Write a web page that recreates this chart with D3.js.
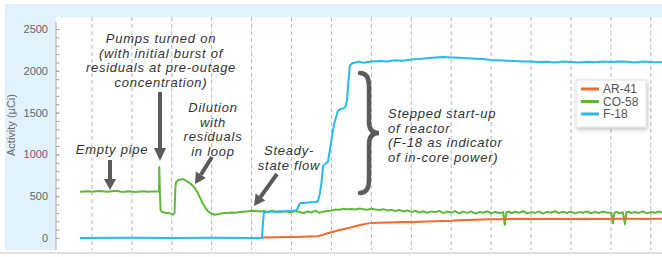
<!DOCTYPE html>
<html>
<head>
<meta charset="utf-8">
<script src="https://cdn.jsdelivr.net/npm/d3@7"></script>
<style>
  body { margin: 0; background: #fff; }
  svg { display: block; font-family: "Liberation Sans", Arial, sans-serif; }
  .note { font-style: italic; fill: #333; font-size: 13px; letter-spacing: 0.75px; }
  .tick-label { fill: #666; font-size: 11px; }
</style>
</head>
<body>
<svg id="chart"></svg>
<script>
// values; time is in arbitrary units, one grid line every 10
const yTicks = [0, 500, 1000, 1500, 2000, 2500];
const yMinorTicks = d3.range(0, 2501, 100);
const gridTimes = [10, 20, 30, 40, 50, 60, 70, 80, 90, 100, 110, 120, 130, 140, 150];

const seriesNames = ['AR-41', 'CO-58', 'F-18'];
const seriesColors = ['#f26a2e', '#5fb83a', '#2ab9ee'];

// AR-41 [time, activity]
const ar41 = [
  [52.6, 5], [56, 8], [60, 12], [63, 15], [66.5, 22], [68, 40], [69, 56], [70.5, 75], [72, 95], [73.5, 110],
  [74.6, 122], [76, 140], [77.5, 158], [78.9, 172], [80, 178], [82, 183], [84, 186], [86, 188], [88, 190],
  [90, 192], [92, 195], [94, 197], [96, 200], [98, 203], [100, 206], [102, 212], [104, 216], [106, 219],
  [108, 222], [110, 224], [112, 225], [115, 226], [118, 227], [121, 226], [124, 228], [127, 227],
  [130, 226], [133, 229], [136, 228], [139, 227], [142, 229], [145, 230], [148, 228], [151, 230], [152.8, 230]
];

// CO-58 [time, activity]
const co58 = [
  [7, 552], [8, 556], [9, 560], [10, 554], [11, 558], [12, 562], [13, 557], [14, 553], [15, 559], [16, 566],
  [17, 556], [18, 551], [19, 558], [20, 555], [21, 549], [22, 556], [23, 560], [24, 553], [25, 557], [26, 555],
  [26.8, 556], [26.88, 850], [27.05, 500], [27.2, 330], [27.6, 310], [28.2, 305], [28.8, 300], [29.4, 298],
  [30, 285], [30.4, 280], [30.7, 300], [30.9, 600], [31.1, 670], [31.6, 690], [32.2, 700], [32.8, 705],
  [33.4, 690], [34, 672], [34.6, 652], [35.3, 622], [35.9, 590], [36.5, 540], [37.1, 480], [37.7, 420],
  [38.3, 370], [38.9, 330], [39.5, 305], [40.1, 290], [40.8, 278], [41.5, 285], [42.3, 292], [43.1, 298],
  [44, 300], [45, 305], [46, 302], [47, 310], [48, 315], [49, 320], [50, 325], [51, 322],
  [52, 318], [53, 322], [54, 312], [55, 326], [56, 318], [57, 309], [58, 321], [59, 315], [60, 306],
  [61, 324], [62, 312], [63, 296], [64, 318], [65, 305], [66, 327], [67, 300], [68, 316], [69, 322],
  [70, 330], [71, 342], [72, 338], [73, 350], [74, 344], [75, 348], [76, 340], [77, 352], [78, 345],
  [79, 338], [80, 350], [81, 342], [82, 336], [83, 345], [84, 330], [85, 338], [86, 322], [87, 335],
  [88, 318], [89, 330], [90, 312], [91, 326], [92, 305], [93, 320], [94, 300], [95, 318], [96, 310],
  [97, 325], [98, 298], [99, 316], [100, 305], [101, 322], [102, 295], [103, 315], [104, 300], [105, 318],
  [106, 292], [107, 310], [108, 302], [109, 320], [110, 296], [111, 312], [112, 300], [113, 308],
  [113.4, 158], [113.8, 305], [114.5, 318], [115, 296], [116, 314], [117, 302], [118, 320], [119, 295],
  [120, 310], [121, 300], [122, 318], [123, 292], [124, 312], [125, 305], [126, 320], [127, 298],
  [128, 314], [129, 300], [130, 316], [131, 294], [132, 310], [133, 302], [134, 318], [135, 296],
  [136, 312], [137, 300], [138, 315], [139, 305], [140.1, 302], [140.5, 175], [140.9, 300], [141.5, 312],
  [142, 296], [143, 305], [143.5, 165], [143.9, 308], [144.5, 315], [145, 298], [146, 312], [147, 300],
  [148, 318], [149, 295], [150, 310], [151, 302], [152, 316], [152.8, 305]
];

// F-18 [time, activity]
const f18 = [
  [7, 0], [20, 2], [30, 0], [40, 3], [52.6, 0], [52.8, 150], [53.1, 305], [54, 310], [55, 318], [56, 312],
  [57, 320], [58, 316], [59, 322], [60, 325], [61, 330], [61.5, 345], [61.9, 400], [62.3, 418], [63, 420],
  [64, 425], [65, 428], [66, 430], [66.6, 440], [67.1, 530], [67.5, 660], [67.9, 860], [68.5, 890],
  [69.1, 910], [69.6, 1050], [70.1, 1200], [70.6, 1350], [71, 1420], [71.6, 1520], [72.3, 1545],
  [73, 1550], [73.5, 1570], [73.9, 1650], [74.2, 1850], [74.6, 2060], [75.2, 2090], [76, 2100],
  [77, 2110], [78, 2095], [79, 2105], [80, 2110], [82, 2118], [84, 2112], [86, 2125], [88, 2120],
  [90, 2135], [92, 2140], [94, 2150], [96, 2158], [98, 2165], [100, 2160], [102, 2155], [104, 2150],
  [106, 2145], [108, 2140], [110, 2130], [112, 2125], [114, 2120], [116, 2118], [118, 2110], [120, 2112],
  [122, 2105], [124, 2108], [126, 2100], [128, 2110], [130, 2105], [132, 2100], [134, 2108], [136, 2102],
  [138, 2110], [140, 2105], [142, 2112], [144, 2108], [146, 2100], [148, 2110], [150, 2105], [152.8, 2102]
];

const width = 662, height = 257;
const plot = {left: 56, top: 17, right: 662, bottom: 250};

const svg = d3.select('#chart')
    .attr('width', width)
    .attr('height', height);

// light blue panel with white plotting area
svg.append('rect')
    .attr('x', 5).attr('y', 4)
    .attr('width', width - 5).attr('height', plot.bottom - 4)
    .attr('fill', '#e1f2fc');
svg.append('rect')
    .attr('x', plot.left).attr('y', plot.top)
    .attr('width', plot.right - plot.left).attr('height', plot.bottom - plot.top)
    .attr('fill', '#fff');
svg.append('line')
    .attr('x1', 0).attr('x2', width)
    .attr('y1', 253).attr('y2', 253)
    .attr('stroke', '#d4d4d4').attr('stroke-width', 1.5);

let x = d3.scaleLinear()
    .domain([0, 152.8])
    .range([52, 662]);

let y = d3.scaleLinear()
    .domain([0, 2500])
    .range([238, 29]);

// dashed vertical grid
svg.append('g')
    .selectAll('line')
    .data(gridTimes)
    .enter().append('line')
    .attr('x1', d => x(d)).attr('x2', d => x(d))
    .attr('y1', plot.top).attr('y2', plot.bottom)
    .attr('stroke', '#b8b8b8')
    .attr('stroke-dasharray', '4,3');

// y axis: minor ticks every 100, labelled ones every 500
let axisY = svg.append('g')
    .attr('transform', 'translate(' + plot.left + ',0)');
axisY.call(d3.axisLeft(y).tickValues(yMinorTicks).tickSize(3).tickFormat(''))
    .call(g => g.select('.domain').remove());
axisY.selectAll('.tick line').attr('stroke', '#999').attr('x2', 3);
let axisMajor = svg.append('g')
    .attr('transform', 'translate(' + plot.left + ',0)')
    .call(d3.axisLeft(y).tickValues(yTicks).tickSize(5).tickPadding(3).tickFormat(d3.format('d')));
axisMajor.select('.domain').remove();
axisMajor.selectAll('.tick line').attr('stroke', '#999').attr('x2', 3);
axisMajor.selectAll('.tick text')
    .attr('class', 'tick-label')
    .attr('font-family', null).attr('font-size', null);
svg.append('line')
    .attr('x1', plot.left).attr('x2', plot.left)
    .attr('y1', 22).attr('y2', plot.bottom)
    .attr('stroke', '#aaa');

svg.append('text')
    .attr('transform', 'translate(15,125) rotate(-90)')
    .attr('text-anchor', 'middle')
    .attr('fill', '#666')
    .attr('font-size', 11)
    .text('Activity (µCi)');

// series
svg.append('defs').append('clipPath')
    .attr('id', 'clip')
  .append('rect')
    .attr('x', plot.left).attr('y', plot.top)
    .attr('width', plot.right - plot.left).attr('height', plot.bottom - plot.top);

let line = d3.line()
    .x(d => x(d[0]))
    .y(d => y(d[1]));

let series = [
  {data: co58, color: seriesColors[1]},
  {data: ar41, color: seriesColors[0]},
  {data: f18, color: seriesColors[2]}
];
svg.append('g')
    .attr('clip-path', 'url(#clip)')
    .selectAll('path')
    .data(series)
    .enter().append('path')
    .attr('d', d => line(d.data))
    .attr('fill', 'none')
    .attr('stroke', d => d.color)
    .attr('stroke-width', 2)
    .attr('stroke-linejoin', 'round');

// annotations
const arrowColor = '#5b5b5b';

function arrow(x1, y1, x2, y2, head) {
    let a = Math.atan2(y2 - y1, x2 - x1);
    let hl = head || 11, hw = 6;
    let bx = x2 - hl * Math.cos(a), by = y2 - hl * Math.sin(a);
    svg.append('line')
        .attr('x1', x1).attr('y1', y1)
        .attr('x2', bx).attr('y2', by)
        .attr('stroke', arrowColor)
        .attr('stroke-width', 4);
    let px = -Math.sin(a) * hw, py = Math.cos(a) * hw;
    svg.append('path')
        .attr('d', 'M' + x2 + ',' + y2 + 'L' + (bx + px) + ',' + (by + py) + 'L' + (bx - px) + ',' + (by - py) + 'Z')
        .attr('fill', arrowColor);
}

function note(lines, cx, cy, anchor) {
    let t = svg.append('text')
        .attr('class', 'note')
        .attr('text-anchor', anchor || 'middle');
    lines.forEach(function (s, i) {
        t.append('tspan')
            .attr('x', cx)
            .attr('y', cy + i * 14.6)
            .text(s);
    });
}

note(['Pumps turned on', '(with initial burst of', 'residuals at pre-outage', 'concentration)'], 161, 43);
arrow(160, 92, 160, 161, 13);

note(['Empty pipe'], 112, 154);
arrow(110, 160, 110, 190, 11);

note(['Dilution', 'with', 'residuals', 'in loop'], 213, 112);
arrow(212, 157, 195, 184, 11);

note(['Steady-', 'state flow'], 289, 155);
arrow(277, 174, 254, 206, 11);

svg.append('path')
    .attr('d', 'M360,73 Q369,73 369,86 L369,122 Q369,133 379,133 Q369,133 369,144 L369,180 Q369,193 360,193')
    .attr('fill', 'none')
    .attr('stroke', '#5b5b5b')
    .attr('stroke-width', 4.5)
    .attr('stroke-linecap', 'round');

note(['Stepped start-up', 'of reactor', '(F-18 as indicator', 'of in-core power)'], 388, 118, 'start');

// legend
let legend = svg.append('g')
    .attr('transform', 'translate(576,80)');
svg.select('defs').append('filter')
    .attr('id', 'shadow')
    .attr('x', '-20%').attr('y', '-20%').attr('width', '150%').attr('height', '160%')
  .append('feDropShadow')
    .attr('dx', 1).attr('dy', 2).attr('stdDeviation', 2)
    .attr('flood-color', '#000').attr('flood-opacity', 0.25);
legend.append('rect')
    .attr('width', 70).attr('height', 47)
    .attr('fill', '#fff')
    .attr('stroke', '#e2e2e2')
    .attr('filter', 'url(#shadow)');
let entries = legend.selectAll('g.entry')
    .data(seriesNames)
    .enter().append('g')
    .attr('class', 'entry')
    .attr('transform', (d, i) => 'translate(0,' + (9 + i * 12.5) + ')');
entries.append('line')
    .attr('x1', 5).attr('x2', 23)
    .attr('stroke', (d, i) => seriesColors[i])
    .attr('stroke-width', 3);
entries.append('text')
    .attr('x', 27).attr('dy', '0.35em')
    .attr('fill', '#555')
    .attr('font-size', 12)
    .text(d => d);
</script>
</body>
</html>
